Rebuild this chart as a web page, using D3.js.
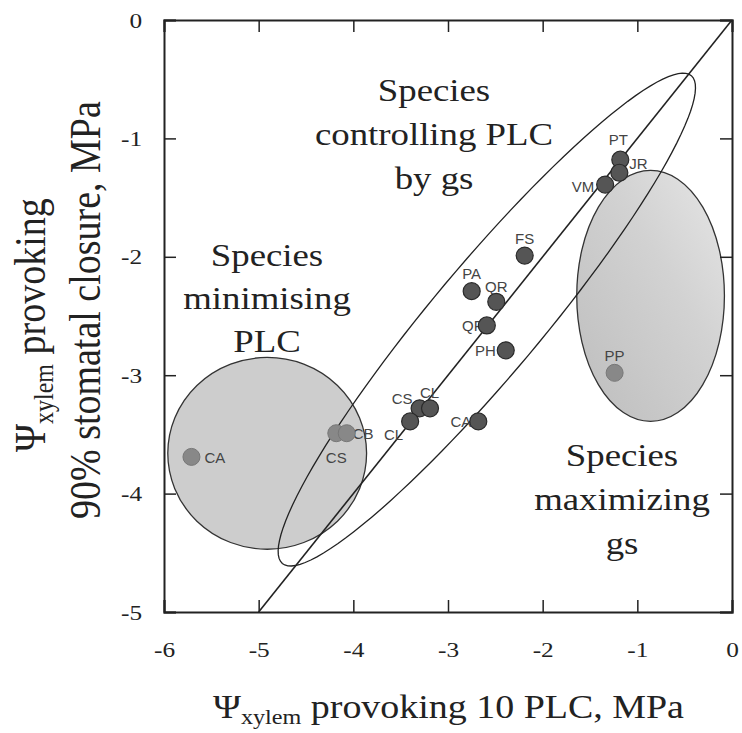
<!DOCTYPE html>
<meta charset="utf-8">
<style>
body { margin: 0; background: #fff; }
.axis path, .axis line { stroke: #222; }
.axis text { font-family: "Liberation Serif", "Times New Roman", serif; fill: #222; }
.lab { font-family: "Liberation Sans", Arial, sans-serif; font-size: 15px; fill: #444; }
.note { font-family: "Liberation Serif", "Times New Roman", serif; fill: #222; }
</style>
<body>
<div id="graph"></div>
<script src="https://d3js.org/d3.v7.min.js"></script>
<script>
// species measured: xylem psi at 10 PLC (x) vs psi at 90% stomatal closure (y)
var darkNames = ["PT", "JR", "VM", "FS", "PA", "QR", "QF", "PH", "CA", "CS", "CL", "CL"];
var darkX = [-1.18, -1.19, -1.34, -2.19, -2.75, -2.49, -2.59, -2.39, -2.68, -3.30, -3.19, -3.40];
var darkY = [-1.18, -1.29, -1.39, -1.99, -2.29, -2.38, -2.58, -2.79, -3.39, -3.28, -3.28, -3.39];

var greyNames = ["CA", "CS", "CB", "PP"];
var greyX = [-5.71, -4.18, -4.07, -1.24];
var greyY = [-3.69, -3.49, -3.49, -2.98];

var xTicks = [-6, -5, -4, -3, -2, -1, 0];
var yTicks = [-5, -4, -3, -2, -1, 0];

// groups drawn as ellipses (centre, half widths in data units)
var minimCentre = [-4.91, -3.66], minimRadii = [1.05, 0.81];
var maximCentre = [-0.86, -2.33], maximRadii = [0.78, 1.06];
// the tilted one: centre, major and minor half axes as data vectors
var ctrlCentre = [-2.59, -2.53], ctrlMajor = [2.16, 2.06], ctrlMinor = [0.44, -0.30];

var W = 742, H = 733;
var svg = d3.select("#graph").append("svg")
    .attr("width", W).attr("height", H);

var x = d3.scaleLinear().domain([-6, 0]).range([164, 732]);
var y = d3.scaleLinear().domain([-5, 0]).range([612, 20]);

var stretch = 1.15;

var defs = svg.append("defs");
var grad = defs.append("linearGradient").attr("id", "gmax")
    .attr("x1", "0").attr("y1", "1").attr("x2", "1").attr("y2", "0");
grad.append("stop").attr("offset", "0").attr("stop-color", "#bdbdbd");
grad.append("stop").attr("offset", "0.6").attr("stop-color", "#d2d2d2");
grad.append("stop").attr("offset", "1").attr("stop-color", "#e6e6e6");

var clip = defs.append("clipPath").attr("id", "plot");
clip.append("rect").attr("x", x(-6)).attr("y", y(0))
    .attr("width", x(0) - x(-6)).attr("height", y(-5) - y(0));

var plot = svg.append("g").attr("clip-path", "url(#plot)");

plot.append("ellipse")
    .attr("cx", x(minimCentre[0])).attr("cy", y(minimCentre[1]))
    .attr("rx", x(minimCentre[0] + minimRadii[0]) - x(minimCentre[0]))
    .attr("ry", y(minimCentre[1] - minimRadii[1]) - y(minimCentre[1]))
    .attr("fill", "#cdcdcd").attr("stroke", "#333").attr("stroke-width", 1.3);

plot.append("ellipse")
    .attr("cx", x(maximCentre[0])).attr("cy", y(maximCentre[1]))
    .attr("rx", x(maximCentre[0] + maximRadii[0]) - x(maximCentre[0]))
    .attr("ry", y(maximCentre[1] - maximRadii[1]) - y(maximCentre[1]))
    .attr("fill", "url(#gmax)").attr("stroke", "#333").attr("stroke-width", 1.3);

// 1:1 line
plot.append("line")
    .attr("x1", x(-5)).attr("y1", y(-5)).attr("x2", x(0)).attr("y2", y(0))
    .attr("stroke", "#222").attr("stroke-width", 1.6);

var ang = d3.range(0, 361, 3).map(function(a) { return a * Math.PI / 180; });
plot.append("path")
    .datum(ang)
    .attr("fill", "none").attr("stroke", "#222").attr("stroke-width", 1.3)
    .attr("d", d3.line()
        .x(function(t) { return x(ctrlCentre[0] + Math.cos(t) * ctrlMajor[0] + Math.sin(t) * ctrlMinor[0]); })
        .y(function(t) { return y(ctrlCentre[1] + Math.cos(t) * ctrlMajor[1] + Math.sin(t) * ctrlMinor[1]); })
        .curve(d3.curveLinearClosed));

// labels first so the dots sit on top of them
// [dx, dy, anchor] for each label, in pixels
var darkLabelPos = [[-2, -15, "middle"], [10, -4, "start"], [-11, 7, "end"], [0, -12, "middle"],
    [0, -12, "middle"], [0, -10, "middle"], [-4, 6, "end"], [-10, 6, "end"], [-7, 6, "end"],
    [-7, -4, "end"], [-10, -10, "start"], [-7, 19, "end"]];
var greyLabelPos = [[13, 6, "start"], [0, 30, "middle"], [6, 6, "start"], [0, -12, "middle"]];

function pointLabels(names, xs, ys, pos) {
  plot.append("g").selectAll("text")
    .data(names)
    .enter().append("text")
      .attr("class", "lab")
      .attr("x", function(d, i) { return x(xs[i]) + pos[i][0]; })
      .attr("y", function(d, i) { return y(ys[i]) + pos[i][1]; })
      .attr("text-anchor", function(d, i) { return pos[i][2]; })
      .text(function(d) { return d; });
}
pointLabels(darkNames, darkX, darkY, darkLabelPos);
pointLabels(greyNames, greyX, greyY, greyLabelPos);

plot.append("g").selectAll("circle")
  .data(greyNames)
  .enter().append("circle")
    .attr("cx", function(d, i) { return x(greyX[i]); })
    .attr("cy", function(d, i) { return y(greyY[i]); })
    .attr("r", 8.5)
    .attr("fill", "#888").attr("stroke", "#777").attr("stroke-width", 1);

plot.append("g").selectAll("circle")
  .data(darkNames)
  .enter().append("circle")
    .attr("cx", function(d, i) { return x(darkX[i]); })
    .attr("cy", function(d, i) { return y(darkY[i]); })
    .attr("r", 8.5)
    .attr("fill", "#555").attr("stroke", "#2a2a2a").attr("stroke-width", 1.2);

// group names
function note(lines, cx, y0, step, size) {
  var g = svg.append("g");
  lines.forEach(function(s, i) {
    g.append("text").attr("class", "note")
      .attr("transform", "translate(" + cx + "," + (y0 + i * step) + ") scale(" + stretch + ",1)")
      .attr("text-anchor", "middle")
      .style("font-size", size + "px")
      .text(s);
  });
}
note(["Species", "controlling PLC", "by gs"], 434, 101, 44, 32);
note(["Species", "minimising", "PLC"], 267, 266, 43, 32);
note(["Species", "maximizing", "gs"], 622, 466, 44, 32);

// axes with inward ticks on all four sides
function minor(lo, hi) { return d3.range(lo * 5, hi * 5 + 1).map(function(v) { return v / 5; }); }
var fmt = function(d) { return String(d); };

var xb = svg.append("g").attr("class", "axis").attr("transform", "translate(0," + y(-5) + ")");
xb.call(d3.axisBottom(x).tickValues(minor(-6, 0)).tickSize(-6).tickFormat(""));
xb.call(d3.axisBottom(x).tickValues(xTicks).tickSize(-12).tickPadding(29).tickFormat(fmt));
var xt = svg.append("g").attr("class", "axis").attr("transform", "translate(0," + y(0) + ")");
xt.call(d3.axisTop(x).tickValues(minor(-6, 0)).tickSize(-6).tickFormat(""));
xt.call(d3.axisTop(x).tickValues(xTicks).tickSize(-12).tickFormat(""));

var yl = svg.append("g").attr("class", "axis").attr("transform", "translate(" + x(-6) + ",0)");
yl.call(d3.axisLeft(y).tickValues(minor(-5, 0)).tickSize(-7).tickFormat(""));
yl.call(d3.axisLeft(y).tickValues(yTicks).tickSize(-12).tickPadding(19).tickFormat(fmt));
var yr = svg.append("g").attr("class", "axis").attr("transform", "translate(" + x(0) + ",0)");
yr.call(d3.axisRight(y).tickValues(minor(-5, 0)).tickSize(-7).tickFormat(""));
yr.call(d3.axisRight(y).tickValues(yTicks).tickSize(-12).tickFormat(""));

svg.selectAll(".axis path").attr("stroke-width", 2);
svg.selectAll(".axis line").attr("stroke-width", 1.5);
xb.selectAll("text").style("font-size", "22px").attr("transform", "scale(" + stretch + ",1)");
yl.selectAll("text").style("font-size", "22px").attr("transform", "scale(" + stretch + ",1)");

// axis titles
var tx = svg.append("text").attr("class", "note")
    .attr("transform", "translate(213,718) scale(" + stretch + ",1)")
    .style("font-size", "33px");
tx.append("tspan").text("\u03A8");
tx.append("tspan").attr("dy", 6).style("font-size", "21px").text("xylem");
tx.append("tspan").attr("dy", -6).text(" provoking 10 PLC, MPa");

var ty1 = svg.append("text").attr("class", "note")
    .attr("transform", "translate(45,452) rotate(-90) scale(1," + stretch + ")")
    .style("font-size", "38px");
ty1.append("tspan").text("\u03A8");
ty1.append("tspan").attr("dy", 7).style("font-size", "24px").text("xylem");
ty1.append("tspan").attr("dy", -7).text(" provoking");

svg.append("text").attr("class", "note")
    .attr("transform", "translate(100,519) rotate(-90) scale(1," + stretch + ")")
    .style("font-size", "38px")
    .text("90% stomatal closure, MPa");
</script>
</body>
